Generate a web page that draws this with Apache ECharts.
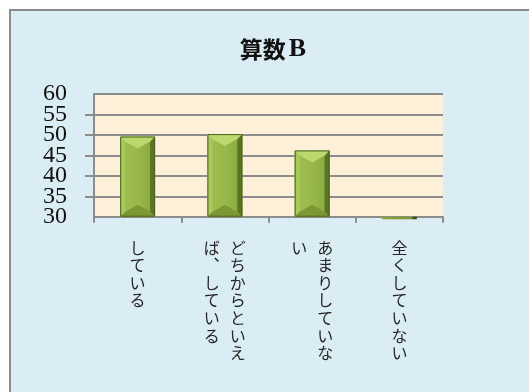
<!DOCTYPE html>
<html>
<head>
<meta charset="utf-8">
<script src="https://cdn.jsdelivr.net/npm/echarts@6/dist/echarts.min.js"></script>
<style>
  html, body { margin: 0; padding: 0; background: #ffffff; }
  #chart { width: 529px; height: 392px; }
</style>
</head>
<body>
<div id="chart"></div>
<script>
// Survey answers (vertical Japanese labels) and their scores
const categories = ['している', 'どちからといえば、している', 'あまりしていない', '全くしていない'];
const values = [49.6, 50.2, 46.2, 29.4];
const yMin = 30;
const yMax = 60;
const yStep = 5;
const titleMain = '算数';
const titleSuffix = 'B';

// Turn a label into upright vertical columns, read right to left, 7 chars per column
function verticalLabel(text) {
  const chars = Array.from(text.replace(/、/g, '︑'));
  const perCol = 7;
  const cols = [];
  for (let i = 0; i < chars.length; i += perCol) cols.push(chars.slice(i, i + perCol));
  const rows = [];
  for (let r = 0; r < cols[0].length; r++) {
    let row = '';
    for (let c = cols.length - 1; c >= 0; c--) {
      row += '{c|' + (cols[c][r] || '　') + '}';
    }
    rows.push(row);
  }
  return rows.join('\n');
}

// Bevelled column: light top facet, shaded sides, darker bottom facet
function renderBevelBar(params, api) {
  const idx = api.value(0);
  const val = api.value(1);
  const top = api.coord([idx, val]);
  const base = api.coord([idx, yMin]);
  const w = api.size([1, 0])[0] * 0.4;
  const x0 = top[0] - w / 2, x1 = top[0] + w / 2, cx = top[0];
  const y0 = Math.min(top[1], base[1]);
  const y1 = Math.max(top[1], base[1]);
  const h = y1 - y0;
  if (h < 14) {
    return {
      type: 'rect',
      shape: { x: x0, y: y0, width: w, height: h },
      style: {
        fill: new echarts.graphic.LinearGradient(0, 0, 1, 0, [
          { offset: 0, color: '#8aa63e' },
          { offset: 0.85, color: '#7a9634' },
          { offset: 0.9, color: '#3d4f16' },
          { offset: 1, color: '#3d4f16' }
        ])
      }
    };
  }
  const e = 5, d = 12;
  return {
    type: 'group',
    children: [
      { type: 'rect', shape: { x: x0, y: y0, width: w, height: h },
        style: { fill: new echarts.graphic.LinearGradient(0, 0, 1, 0, [
          { offset: 0, color: '#9fc050' }, { offset: 0.5, color: '#98b94a' }, { offset: 1, color: '#85a63d' }
        ]) } },
      { type: 'polygon', shape: { points: [[x0, y0], [x0 + e, y0 + e], [x0 + e, y1 - e], [x0, y1]] },
        style: { fill: '#a9c95d' } },
      { type: 'polygon', shape: { points: [[x1, y0], [x1 - e, y0 + e], [x1 - e, y1 - e], [x1, y1]] },
        style: { fill: '#5b7424' } },
      { type: 'polygon', shape: { points: [[x0, y1], [x0 + e, y1 - e], [cx, y1 - d], [x1 - e, y1 - e], [x1, y1]] },
        style: { fill: '#7b9835' } },
      { type: 'polygon', shape: { points: [[x0, y0], [x1, y0], [x1 - e, y0 + e], [cx, y0 + d], [x0 + e, y0 + e]] },
        style: { fill: '#bad86e' } },
      { type: 'rect', shape: { x: x0 + 0.5, y: y0 + 0.5, width: w - 1, height: h - 1 },
        style: { fill: 'none', stroke: '#4d621c', lineWidth: 1 } }
    ]
  };
}

const gridGray = '#8c8c8c';
const yLabelStyle = { fontFamily: 'Liberation Serif', fontSize: 24, color: '#111', margin: 27 };

const chart = echarts.init(document.getElementById('chart'), null, { renderer: 'canvas' });

chart.setOption({
  animation: false,
  backgroundColor: '#ffffff',
  graphic: [{
    type: 'rect',
    silent: true,
    z: -10,
    shape: { x: 10, y: 10, width: 540, height: 400 },
    style: { fill: '#dbedf4', stroke: gridGray, lineWidth: 2 }
  }],
  title: {
    text: '{k|' + titleMain + '}{b|' + titleSuffix + '}',
    left: 268,
    top: 31,
    textAlign: 'center',
    textStyle: {
      rich: {
        k: { fontFamily: 'Noto Sans CJK JP', fontWeight: 'bold', fontSize: 23, color: '#111' },
        b: { fontFamily: 'Liberation Serif', fontWeight: 'bold', fontSize: 26, color: '#111', padding: [0, 0, 0, 3] }
      }
    }
  },
  grid: {
    left: 94, right: 86, top: 94, bottom: 175.3,
    show: true,
    backgroundColor: '#fcf0d9',
    borderWidth: 0,
    outerBoundsMode: 'none'
  },
  xAxis: {
    type: 'category',
    data: categories,
    boundaryGap: true,
    axisLine: { lineStyle: { color: gridGray, width: 2 } },
    axisTick: { show: true, length: 6, alignWithLabel: false, lineStyle: { color: gridGray, width: 2 } },
    axisLabel: {
      interval: 0,
      margin: 22,
      formatter: verticalLabel,
      rich: {
        c: { width: 26, align: 'center', fontSize: 16, lineHeight: 17.6,
             fontFamily: 'Noto Sans CJK JP', color: '#262626' }
      }
    }
  },
  yAxis: [
    {
      // labels 30, 40, 50, 60 and the axis line
      type: 'value',
      position: 'left',
      min: yMin,
      max: yMax,
      interval: yStep * 2,
      axisLine: { show: true, lineStyle: { color: gridGray, width: 2 } },
      axisTick: { show: false },
      axisLabel: Object.assign({ showMinLabel: true, showMaxLabel: true }, yLabelStyle),
      splitLine: { show: false }
    },
    {
      // every 5: gridlines, ticks, and labels 35, 45, 55
      type: 'value',
      position: 'left',
      offset: 0,
      min: yMin,
      max: yMax,
      interval: yStep,
      axisLine: { show: false },
      axisTick: { show: true, length: 9, lineStyle: { color: gridGray, width: 2 } },
      axisLabel: Object.assign({
        showMinLabel: false,
        showMaxLabel: false,
        formatter: (v) => (v % (yStep * 2) === 0 ? '' : String(v))
      }, yLabelStyle),
      splitLine: { show: true, lineStyle: { color: gridGray, width: 2 } }
    }
  ],
  series: [{
    type: 'custom',
    renderItem: renderBevelBar,
    encode: { x: 0, y: 1 },
    yAxisIndex: 0,
    data: values.map((v, i) => [i, v]),
    z: 3
  }]
});
</script>
</body>
</html>
